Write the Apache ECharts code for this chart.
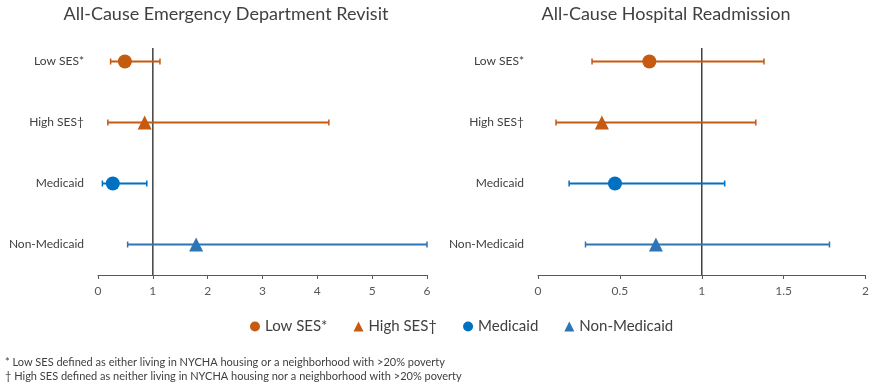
<!DOCTYPE html>
<html>
<head>
<meta charset="utf-8">
<script src="https://cdn.jsdelivr.net/npm/echarts@6/dist/echarts.min.js"></script>
<style>
  html, body { margin: 0; padding: 0; background: #fff; }
  #main { width: 872px; height: 387px; }
</style>
</head>
<body>
<div id="main"></div>
<script>
// rows, top to bottom
const categories = ['Low SES*', 'High SES†', 'Medicaid', 'Non-Medicaid'];
const groupColors = ['#C55A11', '#C55A11', '#0070C0', '#2E75B6'];
const groupSymbols = ['circle', 'triangle', 'circle', 'triangle'];

// All-Cause Emergency Department Revisit
const edEst = [0.49, 0.85, 0.27, 1.79];
const edLow = [0.23, 0.18, 0.08, 0.54];
const edHigh = [1.13, 4.21, 0.89, 6.0];

// All-Cause Hospital Readmission
const readEst = [0.68, 0.39, 0.47, 0.72];
const readLow = [0.33, 0.11, 0.19, 0.29];
const readHigh = [1.38, 1.33, 1.14, 1.78];

const edTicks = {min: 0, max: 6, interval: 1};
const readTicks = {min: 0, max: 2, interval: 0.5};

const font = 'Lato, "Open Sans", sans-serif';
const rowY = i => categories.length - 0.5 - i;

const chart = echarts.init(document.getElementById('main'));

function yAxis(gridIndex) {
  return {
    type: 'value', gridIndex, min: 0, max: 4, interval: 0.5,
    axisLine: {show: false}, axisTick: {show: false}, splitLine: {show: false},
    axisLabel: {
      margin: 14, color: '#404040', fontSize: 12, fontFamily: font,
      formatter(v) {
        const i = categories.length - 0.5 - v;
        return Number.isInteger(i) ? categories[i] : '';
      }
    }
  };
}

function xAxis(gridIndex, t) {
  return {
    type: 'value', gridIndex, min: t.min, max: t.max, interval: t.interval,
    axisLine: {show: true, lineStyle: {color: '#595959', width: 1}},
    axisTick: {show: true, length: 4, lineStyle: {color: '#595959'}},
    splitLine: {show: false},
    axisLabel: {margin: 10, color: '#595959', fontSize: 12, fontFamily: font}
  };
}

function errorBars(axisIndex, low, high) {
  return {
    type: 'custom', xAxisIndex: axisIndex, yAxisIndex: axisIndex, z: 2,
    data: low.map((l, i) => [l, high[i], rowY(i), i]),
    renderItem(params, api) {
      const a = api.coord([api.value(0), api.value(2)]);
      const b = api.coord([api.value(1), api.value(2)]);
      const color = groupColors[api.value(3)];
      const style = {stroke: color, lineWidth: 2};
      return {
        type: 'group',
        children: [
          {type: 'line', shape: {x1: a[0], y1: a[1], x2: b[0], y2: b[1]}, style},
          {type: 'line', shape: {x1: a[0], y1: a[1] - 3, x2: a[0], y2: a[1] + 3}, style: {stroke: color, lineWidth: 1.5}},
          {type: 'line', shape: {x1: b[0], y1: b[1] - 3, x2: b[0], y2: b[1] + 3}, style: {stroke: color, lineWidth: 1.5}}
        ]
      };
    }
  };
}

function refLine(axisIndex) {
  return {
    type: 'line', xAxisIndex: axisIndex, yAxisIndex: axisIndex, z: 1,
    data: [[1, 0], [1, 3.72]], symbol: 'none', silent: true,
    lineStyle: {color: '#404040', width: 1.5}
  };
}

function points(axisIndex, est) {
  return categories.map((name, i) => ({
    name, type: 'scatter', xAxisIndex: axisIndex, yAxisIndex: axisIndex, z: 3,
    symbol: groupSymbols[i], symbolSize: 14,
    itemStyle: {color: groupColors[i], opacity: 1},
    data: [[est[i], rowY(i)]]
  }));
}

const option = {
  animation: false,
  title: [
    {text: 'All-Cause Emergency Department Revisit', left: 221, top: 0, textAlign: 'center',
      textStyle: {fontSize: 18, fontWeight: 'normal', color: '#404040', fontFamily: font}},
    {text: 'All-Cause Hospital Readmission', left: 661, top: 0, textAlign: 'center',
      textStyle: {fontSize: 18, fontWeight: 'normal', color: '#404040', fontFamily: font}}
  ],
  legend: {
    top: 314, left: 245, itemGap: 26, itemWidth: 10, itemHeight: 10,
    data: categories.map((name, i) => ({name, icon: groupSymbols[i]})),
    textStyle: {fontSize: 15, color: '#404040', fontFamily: font}
  },
  graphic: [
    {type: 'text', left: 5, top: 357,
      style: {text: '* Low SES defined as either living in NYCHA housing or a neighborhood with >20% poverty',
        fontSize: 11, fill: '#404040', fontFamily: font}},
    {type: 'text', left: 5, top: 371,
      style: {text: '† High SES defined as neither living in NYCHA housing nor a neighborhood with >20% poverty',
        fontSize: 11, fill: '#404040', fontFamily: font}}
  ],
  grid: [
    {left: 98, right: 445, top: 31, bottom: 112},
    {left: 538, right: 5, top: 31, bottom: 112}
  ],
  xAxis: [xAxis(0, edTicks), xAxis(1, readTicks)],
  yAxis: [yAxis(0), yAxis(1)],
  series: [
    refLine(0), refLine(1),
    errorBars(0, edLow, edHigh), errorBars(1, readLow, readHigh),
    ...points(0, edEst), ...points(1, readEst)
  ]
};

chart.setOption(option);
</script>
</body>
</html>
